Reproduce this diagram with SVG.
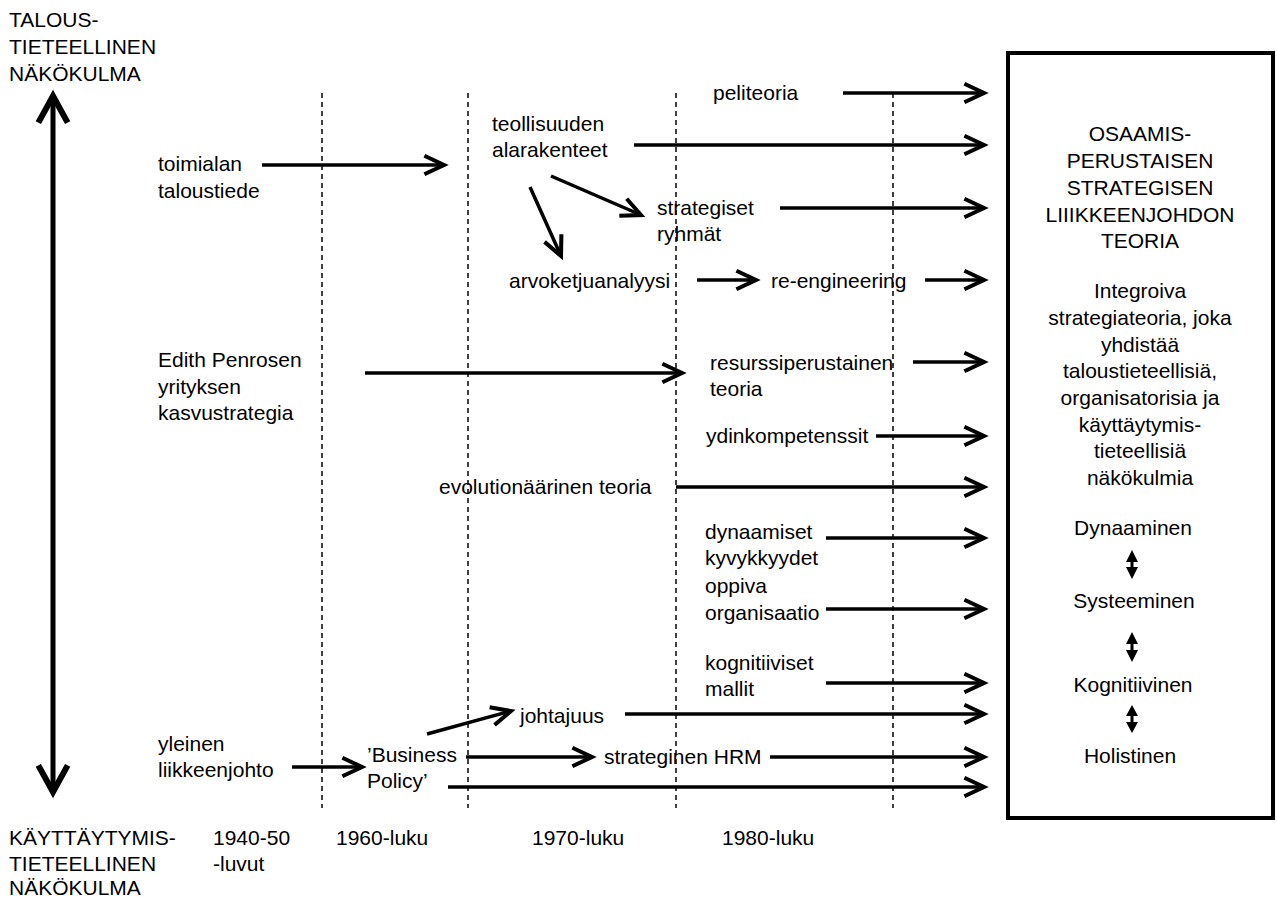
<svg xmlns="http://www.w3.org/2000/svg" width="1277" height="900" viewBox="0 0 1277 900">
<style>
text{font-family:"Liberation Sans",Arial,sans-serif;font-size:21px;fill:#000}
.c{text-anchor:middle}
.ln{stroke:#000;stroke-width:3.5;fill:none}
.dash{stroke:#000;stroke-width:1.5;stroke-dasharray:5 4;fill:none}
</style>
<defs>
<marker id="ah" markerUnits="userSpaceOnUse" orient="auto" markerWidth="30" markerHeight="30" refX="0" refY="0" viewBox="-22 -12 26 24" overflow="visible">
<path d="M-17,-8 L0,0 L-17,8" fill="none" stroke="#000" stroke-width="3.5" stroke-linejoin="miter"/>
</marker>
<marker id="big" markerUnits="userSpaceOnUse" orient="auto-start-reverse" markerWidth="40" markerHeight="40" refX="0" refY="0" viewBox="-25 -15 30 30" overflow="visible">
<path d="M-20,-11 L0,0 L-20,11" fill="none" stroke="#000" stroke-width="4.5"/>
</marker>
</defs>
<rect width="1277" height="900" fill="#fff"/>

<g id="gridlines">
<line class="dash" x1="322" y1="93" x2="322" y2="808"/>
<line class="dash" x1="468" y1="93" x2="468" y2="808"/>
<line class="dash" x1="676" y1="93" x2="676" y2="808"/>
<line class="dash" x1="893" y1="93" x2="893" y2="808"/>
</g>

<g id="axis">
<line x1="53" y1="96" x2="53" y2="792" stroke="#000" stroke-width="5" marker-start="url(#big)" marker-end="url(#big)"/>
<text x="9" y="27">TALOUS-</text>
<text x="9" y="54">TIETEELLINEN</text>
<text x="9" y="81">NÄKÖKULMA</text>
<text x="9" y="845">KÄYTTÄYTYMIS-</text>
<text x="9" y="871">TIETEELLINEN</text>
<text x="9" y="895">NÄKÖKULMA</text>
</g>

<g id="periods">
<text x="213" y="845">1940-50</text>
<text x="213" y="871">-luvut</text>
<text x="336" y="845">1960-luku</text>
<text x="532" y="845">1970-luku</text>
<text x="722" y="845">1980-luku</text>
</g>

<g id="connectors">
<line class="ln" x1="843" y1="93" x2="984" y2="93" marker-end="url(#ah)"/>
<line class="ln" x1="634" y1="145" x2="984" y2="145" marker-end="url(#ah)"/>
<line class="ln" x1="262" y1="165" x2="444" y2="165" marker-end="url(#ah)"/>
<line class="ln" x1="551" y1="176" x2="641" y2="215" marker-end="url(#ah)"/>
<line class="ln" x1="530" y1="187" x2="561" y2="256" marker-end="url(#ah)"/>
<line class="ln" x1="780" y1="208" x2="984" y2="208" marker-end="url(#ah)"/>
<line class="ln" x1="697" y1="280" x2="756" y2="280" marker-end="url(#ah)"/>
<line class="ln" x1="925" y1="280" x2="984" y2="280" marker-end="url(#ah)"/>
<line class="ln" x1="365" y1="373" x2="682" y2="373" marker-end="url(#ah)"/>
<line class="ln" x1="913" y1="362" x2="984" y2="362" marker-end="url(#ah)"/>
<line class="ln" x1="876" y1="436" x2="984" y2="436" marker-end="url(#ah)"/>
<line class="ln" x1="676" y1="487" x2="984" y2="487" marker-end="url(#ah)"/>
<line class="ln" x1="826" y1="538" x2="984" y2="538" marker-end="url(#ah)"/>
<line class="ln" x1="826" y1="609" x2="984" y2="609" marker-end="url(#ah)"/>
<line class="ln" x1="826" y1="683" x2="984" y2="683" marker-end="url(#ah)"/>
<line class="ln" x1="625" y1="714" x2="984" y2="714" marker-end="url(#ah)"/>
<line class="ln" x1="427" y1="734" x2="511" y2="711" marker-end="url(#ah)"/>
<line class="ln" x1="292" y1="767" x2="362" y2="767" marker-end="url(#ah)"/>
<line class="ln" x1="466" y1="757" x2="592" y2="757" marker-end="url(#ah)"/>
<line class="ln" x1="770" y1="757" x2="984" y2="757" marker-end="url(#ah)"/>
<line class="ln" x1="448" y1="787" x2="984" y2="787" marker-end="url(#ah)"/>
</g>

<g id="n-peliteoria"><text x="713" y="100">peliteoria</text></g>
<g id="n-teollisuuden"><text x="492" y="131">teollisuuden</text><text x="492" y="157">alarakenteet</text></g>
<g id="n-toimialan"><text x="158" y="171">toimialan</text><text x="158" y="198">taloustiede</text></g>
<g id="n-strategiset"><text x="657" y="215">strategiset</text><text x="657" y="241">ryhmät</text></g>
<g id="n-arvoketju"><text x="509" y="288">arvoketjuanalyysi</text></g>
<g id="n-reengineering"><text x="771" y="288">re-engineering</text></g>
<g id="n-penrose"><text x="158" y="367">Edith Penrosen</text><text x="158" y="394">yrityksen</text><text x="158" y="420">kasvustrategia</text></g>
<g id="n-resurssi"><text x="710" y="370">resurssiperustainen</text><text x="710" y="396">teoria</text></g>
<g id="n-ydin"><text x="706" y="443">ydinkompetenssit</text></g>
<g id="n-evoluutio"><text x="439" y="494">evolutionäärinen teoria</text></g>
<g id="n-dynaamiset"><text x="705" y="539">dynaamiset</text><text x="705" y="565">kyvykkyydet</text></g>
<g id="n-oppiva"><text x="705" y="593">oppiva</text><text x="705" y="620">organisaatio</text></g>
<g id="n-kognitiiviset"><text x="705" y="670">kognitiiviset</text><text x="705" y="696">mallit</text></g>
<g id="n-johtajuus"><text x="520" y="723">johtajuus</text></g>
<g id="n-yleinen"><text x="158" y="751">yleinen</text><text x="158" y="777">liikkeenjohto</text></g>
<g id="n-business"><text x="367" y="762">’Business</text><text x="367" y="788">Policy’</text></g>
<g id="n-hrm"><text x="604" y="764">strateginen HRM</text></g>

<g id="n-theory">
<rect x="1008" y="53" width="265" height="765" fill="#fff" stroke="#000" stroke-width="4"/>
<text class="c" x="1140" y="141">OSAAMIS-</text>
<text class="c" x="1140" y="168">PERUSTAISEN</text>
<text class="c" x="1140" y="195">STRATEGISEN</text>
<text class="c" x="1140" y="222">LIIIKKEENJOHDON</text>
<text class="c" x="1140" y="248">TEORIA</text>
<text class="c" x="1140" y="298">Integroiva</text>
<text class="c" x="1140" y="325">strategiateoria, joka</text>
<text class="c" x="1140" y="352">yhdistää</text>
<text class="c" x="1140" y="378">taloustieteellisiä,</text>
<text class="c" x="1140" y="405">organisatorisia ja</text>
<text class="c" x="1140" y="432">käyttäytymis-</text>
<text class="c" x="1140" y="458">tieteellisiä</text>
<text class="c" x="1140" y="485">näkökulmia</text>
<text class="c" x="1133" y="535">Dynaaminen</text>
<text class="c" x="1134" y="608">Systeeminen</text>
<text class="c" x="1133" y="692">Kognitiivinen</text>
<text class="c" x="1130" y="763">Holistinen</text>
<path d="M1132,550 L1138,562 L1133.5,562 L1133.5,567 L1138,567 L1132,579 L1126,567 L1130.5,567 L1130.5,562 L1126,562 Z" fill="#000"/>
<path d="M1132,632 L1138,644 L1133.5,644 L1133.5,650 L1138,650 L1132,662 L1126,650 L1130.5,650 L1130.5,644 L1126,644 Z" fill="#000"/>
<path d="M1132,705 L1138,716 L1133.5,716 L1133.5,722 L1138,722 L1132,733 L1126,722 L1130.5,722 L1130.5,716 L1126,716 Z" fill="#000"/>
</g>
</svg>
